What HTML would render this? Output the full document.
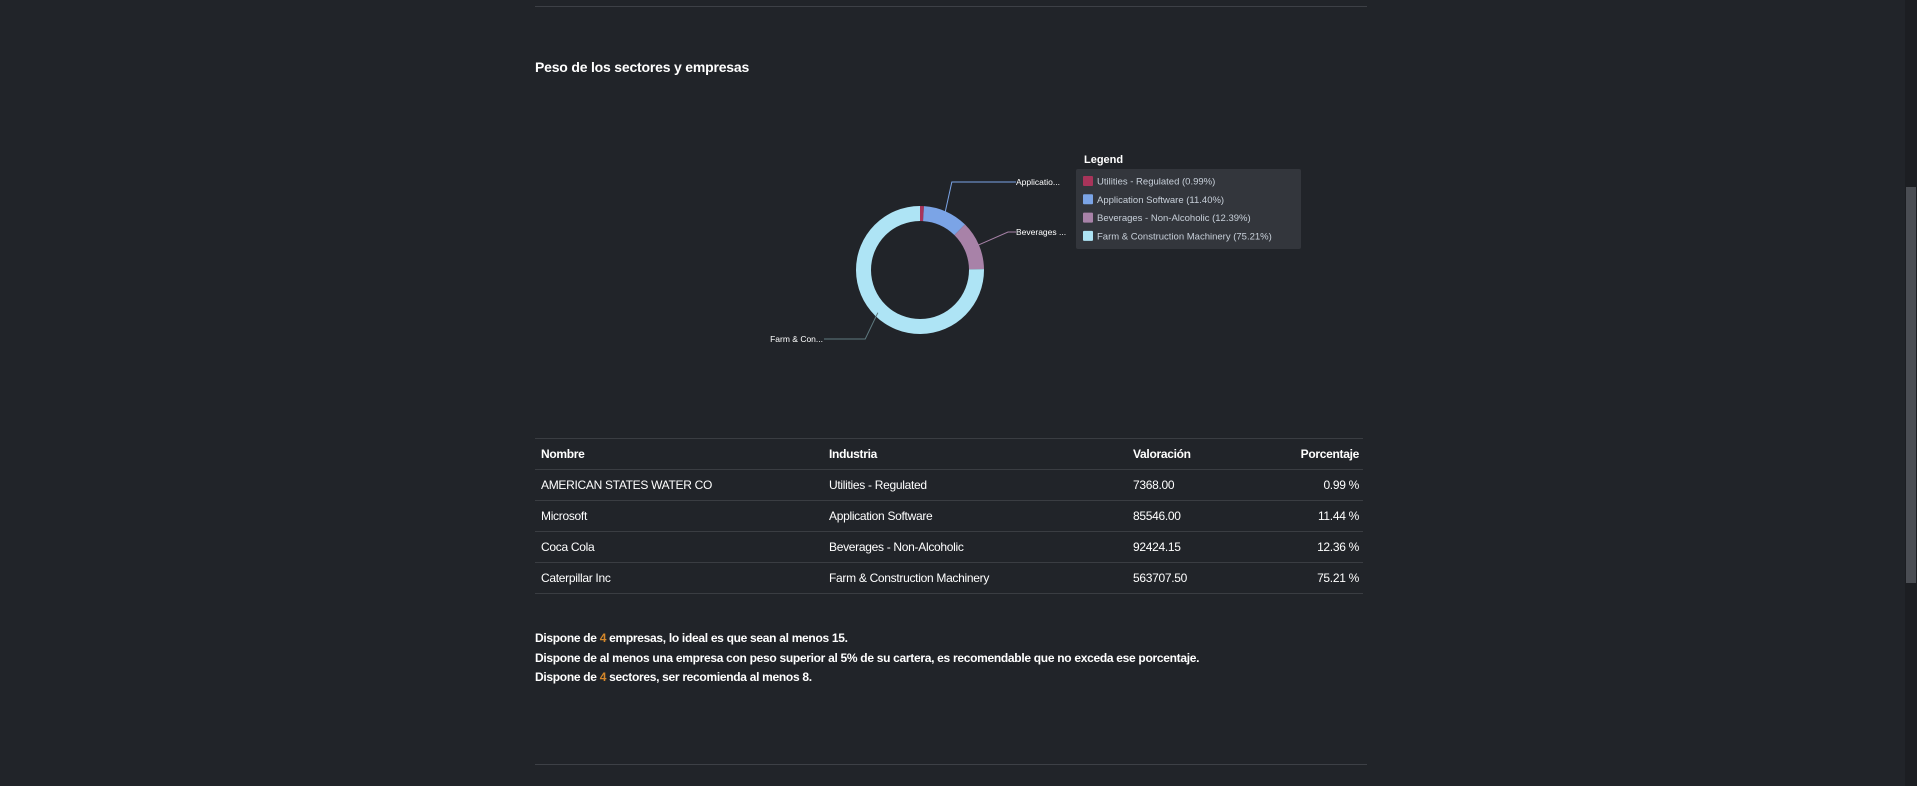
<!DOCTYPE html>
<html><head><meta charset="utf-8"><style>
body{margin:0;width:1917px;height:786px;background:#212429;overflow:hidden;font-family:"Liberation Sans",sans-serif;color:#fff;position:relative}
.abs{position:absolute}
.hr{position:absolute;left:535px;width:832px;height:1px;background:#3d4046}
table{position:absolute;left:535px;top:438px;width:828px;border-collapse:collapse;font-size:12px;letter-spacing:-0.3px}
td,th{height:30px;border-top:1px solid #3a3d42;padding:0 0 0 6px;text-align:left;vertical-align:middle}
tr:last-child td{border-bottom:1px solid #3a3d42}
th{font-weight:bold}
.r{text-align:right;padding-right:4px}
.note{position:absolute;left:535px;font-size:12px;font-weight:bold;letter-spacing:-0.3px}
.o{color:#d4872a}
</style></head><body>
<div class="hr" style="top:6px"></div>
<div class="abs" style="left:535px;top:59px;font-size:14px;font-weight:bold;letter-spacing:-0.2px">Peso de los sectores y empresas</div>
<svg class="abs" style="left:0;top:0" width="1917" height="420" id="chart"></svg>
<table>
<tr><th style="width:282px">Nombre</th><th style="width:298px">Industria</th><th style="width:160px">Valoración</th><th class="r">Porcentaje</th></tr>
<tr><td>AMERICAN STATES WATER CO</td><td>Utilities - Regulated</td><td>7368.00</td><td class="r">0.99 %</td></tr>
<tr><td>Microsoft</td><td>Application Software</td><td>85546.00</td><td class="r">11.44 %</td></tr>
<tr><td>Coca Cola</td><td>Beverages - Non-Alcoholic</td><td>92424.15</td><td class="r">12.36 %</td></tr>
<tr><td>Caterpillar Inc</td><td>Farm &amp; Construction Machinery</td><td>563707.50</td><td class="r">75.21 %</td></tr>
</table>
<div class="note" style="top:631px">Dispone de <span class="o">4</span> empresas, lo ideal es que sean al menos 15.</div>
<div class="note" style="top:651px">Dispone de al menos una empresa con peso superior al 5% de su cartera, es recomendable que no exceda ese porcentaje.</div>
<div class="note" style="top:670px">Dispone de <span class="o">4</span> sectores, ser recomienda al menos 8.</div>
<div class="hr" style="top:764px"></div>
<div class="abs" style="left:1905px;top:0;width:12px;height:786px;background:#1c1e22"></div>
<div class="abs" style="left:1906px;top:187px;width:10px;height:396px;background:#4a4d53"></div>
<script>
const categories=["Utilities - Regulated","Application Software","Beverages - Non-Alcoholic","Farm & Construction Machinery"];
const values=[0.99,11.40,12.39,75.21];
const shortLabels=["","Applicatio...","Beverages ...","Farm & Con..."];
const colors=["#a8345a","#7ba4e6","#a882a8","#aee4f5"];
const NS="http://www.w3.org/2000/svg";
const svg=document.getElementById('chart');
const cx=920,cy=270,R=64,r=49;
const total=values.reduce((a,b)=>a+b,0);
function ang(v){return -Math.PI/2+v/total*2*Math.PI;}
function pt(a,rad){return [cx+rad*Math.cos(a),cy+rad*Math.sin(a)];}
let acc=0;
let rightCount=0;
values.forEach((v,i)=>{
  const a0=ang(acc),a1=ang(acc+v);acc+=v;
  const large=(a1-a0)>Math.PI?1:0;
  const p0=pt(a0,R),p1=pt(a1,R),q1=pt(a1,r),q0=pt(a0,r);
  const p=document.createElementNS(NS,'path');
  p.setAttribute('d',`M${p0[0]},${p0[1]}A${R},${R} 0 ${large} 1 ${p1[0]},${p1[1]}L${q1[0]},${q1[1]}A${r},${r} 0 ${large} 0 ${q0[0]},${q0[1]}Z`);
  p.setAttribute('fill',colors[i]);
  
  
  svg.appendChild(p);
  if(shortLabels[i]){
    const am=(a0+a1)/2;
    const s=pt(am,R-4);
    const right=Math.cos(am)>0;
    let lx,ly,ex;
    if(right){ly=rightCount===0?182:232;rightCount++;lx=1016;}
    else{ly=339;lx=824;}
    const e=pt(am,R+14);
    ex=e[0];
    const l=document.createElementNS(NS,'polyline');
    if(right && rightCount===2){
      l.setAttribute('points',`${s[0]},${s[1]} ${lx-8},${ly} ${lx},${ly}`);
    } else {
      l.setAttribute('points',`${s[0]},${s[1]} ${ex},${ly} ${lx},${ly}`);
    }
    l.setAttribute('fill','none');
    l.setAttribute('stroke',i==3?'#5f7a80':colors[i]);
    
    
    svg.appendChild(l);
    const t=document.createElementNS(NS,'text');
    t.setAttribute('x',right?lx:lx-1);t.setAttribute('y',ly+3);
    t.setAttribute('text-anchor',right?'start':'end');
    t.setAttribute('font-size','8.5');t.setAttribute('fill','#fff');
    t.setAttribute('font-family','Liberation Sans, sans-serif');
    
    
    t.textContent=shortLabels[i];
    svg.appendChild(t);
  }
});
const lt=document.createElementNS(NS,'text');
lt.setAttribute('x',1084);lt.setAttribute('y',163);lt.setAttribute('fill','#fff');
lt.setAttribute('font-size','11');lt.setAttribute('font-weight','bold');
lt.setAttribute('font-family','Liberation Sans, sans-serif');


lt.textContent='Legend';svg.appendChild(lt);
const box=document.createElementNS(NS,'rect');
box.setAttribute('x',1076);box.setAttribute('y',169);box.setAttribute('width',225);box.setAttribute('height',80);box.setAttribute('rx',2);box.setAttribute('fill','#33363c');


svg.appendChild(box);
categories.forEach((c,i)=>{
  const y=181+i*18.3;
  const sw=document.createElementNS(NS,'rect');
  sw.setAttribute('x',1083);sw.setAttribute('y',y-5);sw.setAttribute('width',10);sw.setAttribute('height',10);sw.setAttribute('rx',1);sw.setAttribute('fill',colors[i]);
  
  
  svg.appendChild(sw);
  const t=document.createElementNS(NS,'text');
  t.setAttribute('x',1097);t.setAttribute('y',y+3.5);t.setAttribute('fill','#c8d0da');t.setAttribute('font-size','9.5');
  t.setAttribute('font-family','Liberation Sans, sans-serif');
  
  
  t.textContent=c+' ('+values[i].toFixed(2)+'%)';
  svg.appendChild(t);
});
</script>
</body></html>
